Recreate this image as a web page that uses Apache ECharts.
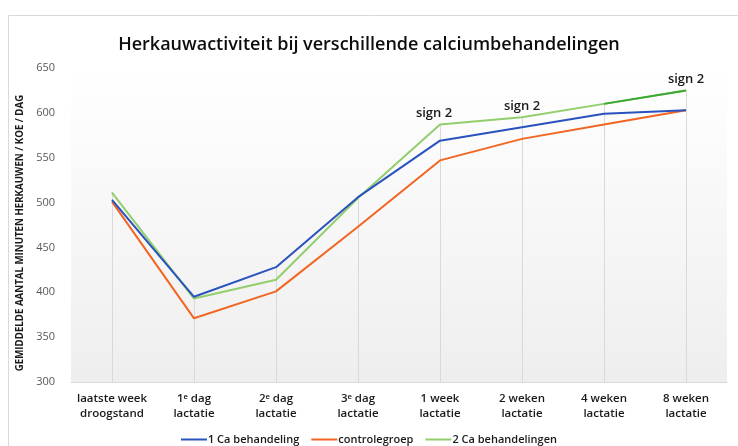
<!DOCTYPE html>
<html>
<head>
<meta charset="utf-8">
<script src="https://cdn.jsdelivr.net/npm/echarts@6/dist/echarts.min.js"></script>
<style>html,body{margin:0;padding:0;background:#fff;}#c{width:738px;height:446px;}</style>
</head>
<body>
<div id="c"></div>
<script>
const categories = ['laatste week\ndroogstand', '1ᵉ dag\nlactatie', '2ᵉ dag\nlactatie', '3ᵉ dag\nlactatie', '1 week\nlactatie', '2 weken\nlactatie', '4 weken\nlactatie', '8 weken\nlactatie'];
const ca1 = [503, 395, 428, 506, 569, 584, 599, 603];
const control = [501, 371, 401, 473, 547, 571, 587, 603];
const ca2 = [511, 393, 414, 505, 587, 595, 610, 625];
const signLabels = ['', '', '', '', 'sign 2', 'sign 2', '', 'sign 2'];
const yMin = 300, yMax = 650, yStep = 50;

const FONT = '"Open Sans", "Noto Sans", sans-serif';
const chart = echarts.init(document.getElementById('c'));

const ca2Data = ca2.map((v, i) => signLabels[i] ? {
  value: v,
  label: { show: true, formatter: signLabels[i], position: 'top', distance: 4,
           fontFamily: FONT, fontSize: 13, fontWeight: 600, color: '#1a1a1a',
           offset: i === 4 ? [-6, 0] : [0, 0] }
} : v);
const ca2Late = ca2.map((v, i) => i >= 6 ? v : '-');
const dropTop = categories.map((c, i) => Math.max(ca1[i], control[i], ca2[i]));

chart.setOption({
  animation: false,
  textStyle: { fontFamily: FONT },
  title: {
    text: 'Herkauwactiviteit bij verschillende calciumbehandelingen',
    left: 'center', top: 31,
    textStyle: { fontFamily: FONT, fontSize: 18, fontWeight: 600, color: '#0d0d0d' }
  },
  graphic: [{
    type: 'rect', silent: true, z: -10,
    shape: { x: 8.5, y: 15.5, width: 740, height: 440 },
    style: { fill: 'none', stroke: '#d9d9d9', lineWidth: 1 }
  }],
  grid: {
    left: 71, right: 11, top: 68, bottom: 64,
    show: true, borderWidth: 0,
    backgroundColor: new echarts.graphic.LinearGradient(0, 0, 0, 1, [
      { offset: 0, color: '#ffffff' }, { offset: 1, color: '#eeeeee' }
    ])
  },
  legend: {
    data: ['1 Ca behandeling', 'controlegroep', '2 Ca behandelingen'],
    top: 429, left: 'center',
    icon: 'rect', itemWidth: 26, itemHeight: 2, itemGap: 12,
    textStyle: { fontFamily: FONT, fontSize: 11, fontWeight: 600, color: '#1a1a1a', padding: [0, 0, 0, -4] }
  },
  xAxis: {
    type: 'category', data: categories, boundaryGap: true,
    axisLine: { lineStyle: { color: '#d9d9d9', width: 1 } },
    axisTick: { show: false },
    splitLine: { show: false },
    axisLabel: { fontFamily: FONT, fontSize: 11.5, fontWeight: 600, color: '#1a1a1a', lineHeight: 15, margin: 9, interval: 0 }
  },
  yAxis: {
    type: 'value', min: yMin, max: yMax, interval: yStep,
    name: 'GEMIDDELDE AANTAL MINUTEN HERKAUWEN / KOE / DAG',
    nameLocation: 'middle', nameGap: 45, nameRotate: 90,
    nameTextStyle: { fontFamily: FONT, fontSize: 9.7, fontWeight: 'bold', color: '#1a1a1a', padding: [0, 16, 0, 0] },
    axisLine: { show: false }, axisTick: { show: false },
    splitLine: { show: false },
    axisLabel: { fontFamily: FONT, fontSize: 11, color: '#595959', margin: 16 }
  },
  series: [
    {
      name: '1 Ca behandeling', type: 'line', data: ca1, symbol: 'none',
      lineStyle: { color: '#2a52be', width: 2 }, itemStyle: { color: '#2a52be' }, z: 3,
      markLine: {
        silent: true, symbol: 'none', label: { show: false }, z: 0,
        lineStyle: { color: '#d9d9d9', width: 1, type: 'solid' },
        data: categories.map((c, i) => [{ coord: [c, dropTop[i]] }, { coord: [c, yMin] }])
      }
    },
    {
      name: 'controlegroep', type: 'line', data: control, symbol: 'none',
      lineStyle: { color: '#f26522', width: 2 }, itemStyle: { color: '#f26522' }, z: 2
    },
    {
      name: '2 Ca behandelingen', type: 'line', data: ca2Data,
      symbol: 'circle', symbolSize: 1, showSymbol: true,
      lineStyle: { color: '#92cf6c', width: 2 }, itemStyle: { color: '#92cf6c' }, z: 1
    },
    {
      name: '2 Ca late', type: 'line', data: ca2Late, symbol: 'none',
      lineStyle: { color: '#3aa832', width: 2 }, itemStyle: { color: '#3aa832' }, z: 1
    }
  ]
});
</script>
</body>
</html>
